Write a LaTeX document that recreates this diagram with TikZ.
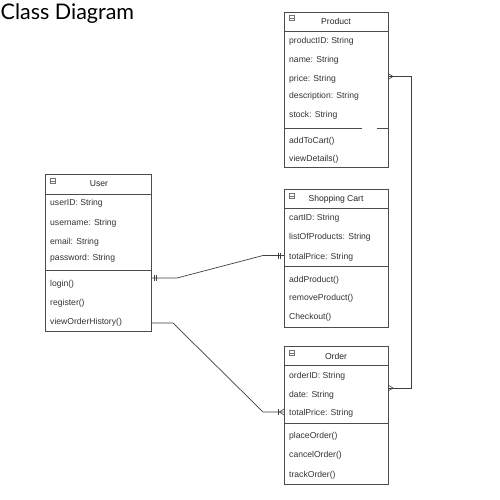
\documentclass[tikz,border=0pt]{standalone}
\usepackage{fontspec}
\setmainfont{Liberation Sans}
\newfontfamily\titlefont{Lato}
\begin{document}
\begin{tikzpicture}[x=1pt,y=-1pt,
  boxline/.style={draw=black!70,line width=0.8pt},
  classbox/.style={boxline,fill=white,inner sep=0pt,anchor=north west},
  attr/.style={anchor=west,inner sep=0pt,font=\fontsize{8.6}{10}\selectfont,text=black!80},
  ctitle/.style={inner sep=0pt,font=\fontsize{8.6}{10}\selectfont,text=black!85},
  iconbox/.style={draw=black!55,line width=0.5pt,minimum size=5pt,inner sep=0pt},
  conn/.style={draw=black!75,line width=0.7pt},
  endmark/.style={draw=black!75,line width=0.6pt}]
\useasboundingbox (0,0) rectangle (500,500);
\fill[white] (0,0) rectangle (500,500);

\node[anchor=north west,inner sep=0pt,font=\titlefont\fontsize{21.5}{24}\selectfont] (title) at (0.5,3) {Class Diagram};

% ---------- Product ----------
\node[classbox,minimum width=104pt,minimum height=155pt] (product) at (284,12) {};
\draw[boxline] (284,31) -- (388,31);
\draw[boxline] (284,128) -- (362,128);
\draw[boxline] (377,128) -- (388,128);
\node[iconbox] (picon) at (292,18) {}; \draw[black!55,line width=0.5pt] (290.3,18) -- (293.7,18);
\node[ctitle] (ptitle) at (336,21) {Product};
\node[attr] (p1) at (289,41) {productID: String};
\node[attr] (p2) at (289,60) {name: String};
\node[attr] (p3) at (289,79) {price: String};
\node[attr] (p4) at (289,96) {description: String};
\node[attr] (p5) at (289,115) {stock: String};
\node[attr] (p6) at (289,141) {addToCart()};
\node[attr] (p7) at (289,159) {viewDetails()};

% ---------- User ----------
\node[classbox,minimum width=106pt,minimum height=157pt] (user) at (45,174) {};
\draw[boxline] (45,194) -- (151,194);
\draw[boxline] (45,270) -- (151,270);
\node[iconbox] (uicon) at (53,181) {}; \draw[black!55,line width=0.5pt] (51.3,181) -- (54.7,181);
\node[ctitle] (utitle) at (99,184) {User};
\node[attr] (u1) at (50,203) {userID: String};
\node[attr] (u2) at (50,223) {username: String};
\node[attr] (u3) at (50,242) {email: String};
\node[attr] (u4) at (50,258) {password: String};
\node[attr] (u5) at (50,284) {login()};
\node[attr] (u6) at (50,303) {register()};
\node[attr] (u7) at (50,322) {viewOrderHistory()};

% ---------- Shopping Cart ----------
\node[classbox,minimum width=104pt,minimum height=138pt] (cart) at (284,189) {};
\draw[boxline] (284,208) -- (388,208);
\draw[boxline] (284,266) -- (388,266);
\node[iconbox] (cicon) at (292,196) {}; \draw[black!55,line width=0.5pt] (290.3,196) -- (293.7,196);
\node[ctitle] (ctitle) at (336,199) {Shopping Cart};
\node[attr] (c1) at (289,218) {cartID: String};
\node[attr] (c2) at (289,237) {listOfProducts: String};
\node[attr] (c3) at (289,257) {totalPrice: String};
\node[attr] (c4) at (289,280) {addProduct()};
\node[attr] (c5) at (289,298) {removeProduct()};
\node[attr] (c6) at (289,317) {Checkout()};

% ---------- Order ----------
\node[classbox,minimum width=104pt,minimum height=138pt] (order) at (284,346) {};
\draw[boxline] (284,365) -- (388,365);
\draw[boxline] (284,423) -- (388,423);
\node[iconbox] (oicon) at (292,353) {}; \draw[black!55,line width=0.5pt] (290.3,353) -- (293.7,353);
\node[ctitle] (otitle) at (336,356) {Order};
\node[attr] (o1) at (289,376) {orderID: String};
\node[attr] (o2) at (289,395) {date: String};
\node[attr] (o3) at (289,413) {totalPrice: String};
\node[attr] (o4) at (289,436) {placeOrder()};
\node[attr] (o5) at (289,455) {cancelOrder()};
\node[attr] (o6) at (289,475) {trackOrder()};

% ---------- connector end points ----------
\coordinate (ucA) at (151,278);
\coordinate (ucB) at (284,255.5);
\coordinate (uoA) at (151,323);
\coordinate (uoB) at (284,412);
\coordinate (poA) at (388,76.5);
\coordinate (poB) at (388,388);

% User -- Shopping Cart (one to one)
\draw[conn] (ucA) -- (177,278) -- (263,255.5) -- (ucB);
\draw[endmark] (154,275) -- (154,281) (156.5,275) -- (156.5,281);
\draw[endmark] (278,252.5) -- (278,258.5) (280.5,252.5) -- (280.5,258.5);

% User -- Order (one to many)
\draw[conn] (uoA) -- (173,323) -- (263,412) -- (uoB);
\draw[endmark] (278,409) -- (278,415);
\draw[endmark] (284,409) -- (279.5,412) -- (284,415);

% Product -- Order (many to many)
\draw[conn] (poA) -- (411,76.5) -- (411,388) -- (poB);
\draw[endmark] (388,73.5) -- (393,76.5) -- (388,79.5);
\draw[endmark] (388,385) -- (393,388) -- (388,391);
\end{tikzpicture}
\end{document}
